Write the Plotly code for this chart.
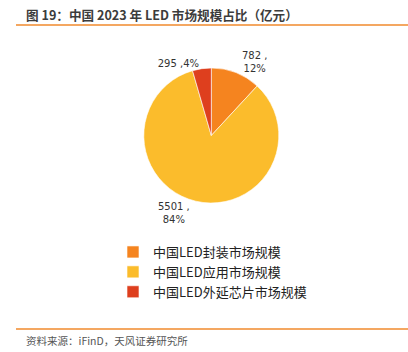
import plotly.graph_objects as go

categories = ["中国LED封装市场规模", "中国LED应用市场规模", "中国LED外延芯片市场规模"]
values = [782, 5501, 295]
colors = ["#F5841F", "#FBBC2C", "#DE3F1E"]
label_templates = ["%{value} ,<br>%{percent:.0%}", "%{value} ,<br>%{percent:.0%}", "%{value} ,%{percent:.0%}"]

title_text = "图 19：中国 2023 年 LED 市场规模占比（亿元）"
source_text = "资料来源：iFinD，天风证券研究所"

W, H = 408, 352
cx, cy, r = 211.3, 135.5, 67.5

fig = go.Figure()
fig.add_trace(go.Pie(
    labels=categories,
    values=values,
    marker=dict(colors=colors, line=dict(color="white", width=0.6)),
    sort=False,
    direction="clockwise",
    rotation=0,
    texttemplate=label_templates,
    textposition="outside",
    textfont=dict(family="DejaVu Sans", size=10, color="#333333"),
    hoverinfo="skip",
    domain=dict(x=[(cx - r) / W, (cx + r) / W], y=[1 - (cy + r) / H, 1 - (cy - r) / H]),
))

cjk = "Noto Sans CJK SC"
fig.update_layout(
    width=W, height=H,
    margin=dict(l=0, r=0, t=0, b=0),
    paper_bgcolor="white",
    plot_bgcolor="white",
    showlegend=True,
    legend=dict(
        x=113 / W, y=1 - 237 / H, xanchor="left", yanchor="top",
        font=dict(family=cjk, size=13, color="#222222"),
        itemwidth=30, tracegroupgap=0, bgcolor="rgba(0,0,0,0)",
    ),
    shapes=[
        dict(type="line", xref="paper", yref="paper", x0=16 / W, x1=1, y0=1 - 25 / H, y1=1 - 25 / H,
             line=dict(color="#F08A2C", width=1.5)),
        dict(type="line", xref="paper", yref="paper", x0=16 / W, x1=1, y0=1 - 329 / H, y1=1 - 329 / H,
             line=dict(color="#F08A2C", width=1.5)),
    ],
    annotations=[
        dict(text=title_text, xref="paper", yref="paper", x=161.5 / W, y=1 - 15 / H,
             xanchor="center", yanchor="middle", showarrow=False,
             font=dict(family=cjk, size=12.6, color="#3C3C3C", weight="bold")),
        dict(text=source_text, xref="paper", yref="paper", x=107 / W, y=1 - 340 / H,
             xanchor="center", yanchor="middle", showarrow=False,
             font=dict(family=cjk, size=10.5, color="#555555")),
    ],
)

fig.write_html("out.html")
